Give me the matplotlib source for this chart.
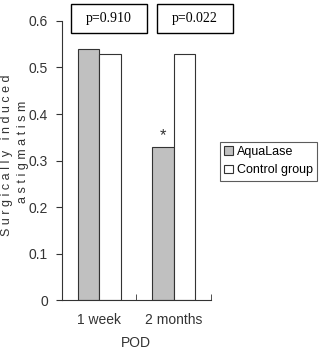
import numpy as np
import matplotlib
matplotlib.use('Agg')
import matplotlib.pyplot as plt
from matplotlib.patches import Rectangle

pod = ['1 week', '2 months']
aqualase = [0.54, 0.33]
control = [0.53, 0.53]
pvals = ['p=0.910', 'p=0.022']

plt.rcParams['font.family'] = 'Liberation Sans'
fig = plt.figure(figsize=(3.19, 3.49), dpi=100)
ax = fig.add_axes([0.194, 0.140, 0.467, 0.800])

x = np.arange(len(pod))
w = 0.29
ax.bar(x - w, aqualase, w, align='edge', color='#c0c0c0', edgecolor='#333333', linewidth=0.8, label='AquaLase')
ax.bar(x, control, w, align='edge', color='white', edgecolor='#333333', linewidth=0.8, label='Control group')
ax.text(x[1] - w / 2, aqualase[1] + 0.008, '*', ha='center', va='bottom', fontsize=12, color='#333333')

ax.set_xlim(-0.5, 1.5)
ax.set_ylim(0, 0.6)
ax.set_yticks([0, 0.1, 0.2, 0.3, 0.4, 0.5, 0.6])
ax.set_yticklabels(['0', '0.1', '0.2', '0.3', '0.4', '0.5', '0.6'])
ax.set_xticks(x)
ax.set_xticklabels(pod)
ax.set_xticks([0.5, 1.5], minor=True)
ax.tick_params(axis='x', which='major', length=0, pad=9, labelsize=10, colors='#333333')
ax.tick_params(axis='x', which='minor', direction='in', length=4, color='#333333')
ax.tick_params(axis='y', direction='out', length=4, labelsize=10, colors='#333333', pad=6)
for s in ['top', 'right']:
    ax.spines[s].set_visible(False)
for s in ['left', 'bottom']:
    ax.spines[s].set_color('#333333')
    ax.spines[s].set_linewidth(0.8)
ax.set_xlabel('POD', fontsize=10, color='#333333', labelpad=7)

fig.text(0.022, 0.556, 'S u r g i c a l l y   i n d u c e d', rotation=90,
         ha='center', va='center', fontsize=9, color='#333333')
fig.text(0.071, 0.564, 'a s t i g m a t i s m', rotation=90,
         ha='center', va='center', fontsize=9, color='#333333')

# p-value boxes
for (x0, x1), p in zip([(71, 147), (157, 233)], pvals):
    fig.patches.append(Rectangle((x0 / 319, 1 - 33 / 349), (x1 - x0) / 319, 29 / 349,
                                 transform=fig.transFigure, fill=False, edgecolor='black', linewidth=1.0))
    fig.text((x0 + x1) / 2 / 319, 1 - 18.5 / 349, p, ha='center', va='center',
             fontsize=10, family='Liberation Serif')

leg = ax.legend(loc='upper left', bbox_to_anchor=(0.690, 0.594), bbox_transform=fig.transFigure,
                fontsize=9, frameon=True, fancybox=False, handlelength=0.7, handleheight=0.7,
                handletextpad=0.3, borderpad=0.35, labelspacing=0.5, borderaxespad=0)
leg.get_frame().set_edgecolor('#333333')
leg.get_frame().set_linewidth(0.8)

fig.savefig('out.png', dpi=100)
